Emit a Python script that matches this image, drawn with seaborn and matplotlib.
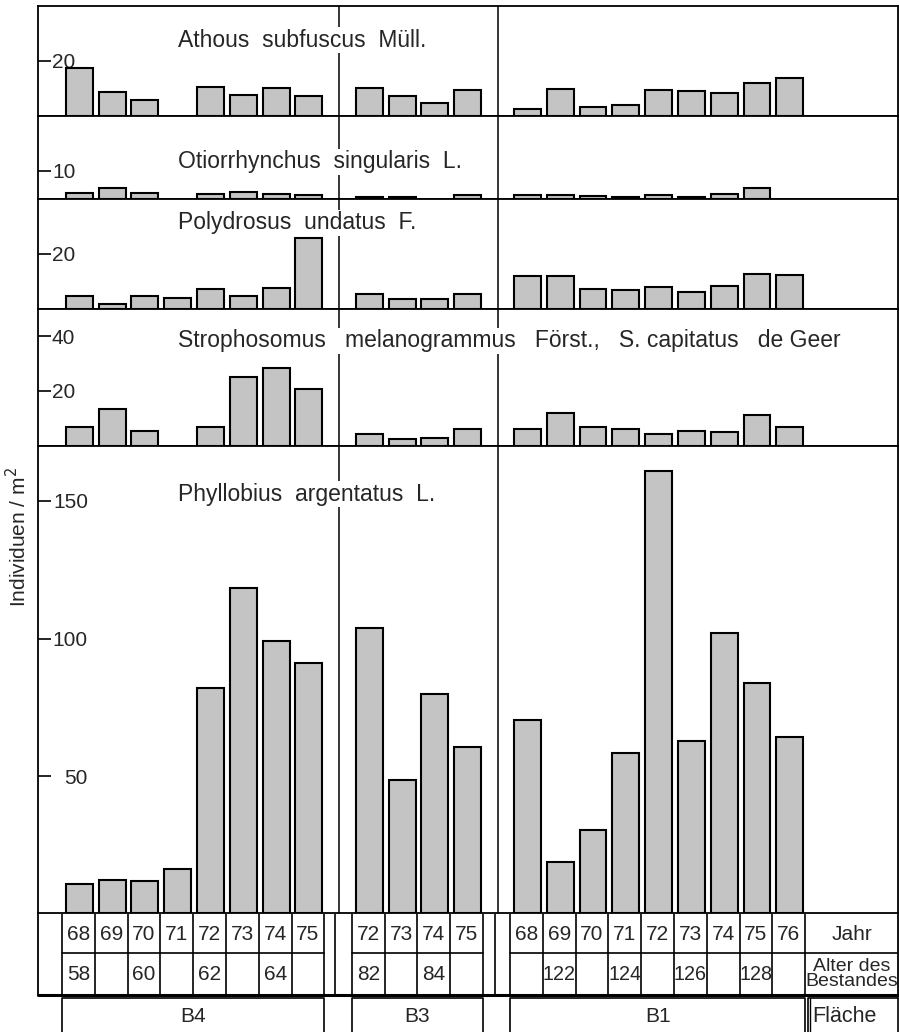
import numpy as np
import pandas as pd
import matplotlib
matplotlib.use("Agg")
import matplotlib.pyplot as plt
import seaborn as sns

sns.set_style("white")
plt.rcParams["font.family"] = ["Liberation Sans", "DejaVu Sans"]

# Years sampled on each area (Fläche)
years_b4 = [68, 69, 70, 71, 72, 73, 74, 75]
years_b3 = [72, 73, 74, 75]
years_b1 = [68, 69, 70, 71, 72, 73, 74, 75, 76]

# Age of the stand (Alter des Bestandes)
age_b4 = ["58", "", "60", "", "62", "", "64", ""]
age_b3 = ["82", "", "84", ""]
age_b1 = ["", "122", "", "124", "", "126", "", "128", ""]

areas = ["B4", "B3", "B1"]

species = [
    "Athous  subfuscus  Müll.",
    "Otiorrhynchus  singularis  L.",
    "Polydrosus  undatus  F.",
    "Strophosomus   melanogrammus   Först.,   S. capitatus   de Geer",
    "Phyllobius  argentatus  L.",
]

# Individuen / m2 (None = no bar)
athous_b4 = [17.3, 8.9, 5.7, None, 10.5, 7.6, 10.1, 7.3]
athous_b3 = [10.1, 7.3, 4.9, 9.3]
athous_b1 = [2.7, 10.0, 3.3, 4.1, 9.3, 9.0, 8.3, 11.9, 13.8]

otio_b4 = [2.0, 3.9, 1.9, None, 1.6, 2.5, 1.5, 1.1]
otio_b3 = [0.6, 0.6, None, 1.3]
otio_b1 = [1.2, 1.2, 1.0, 0.6, 1.1, 0.6, 1.5, 3.9, None]

poly_b4 = [4.5, 1.7, 4.7, 3.7, 7.1, 4.5, 7.4, 25.6]
poly_b3 = [5.1, 3.4, 3.6, 5.3]
poly_b1 = [11.9, 12.0, 7.0, 6.8, 7.9, 6.0, 8.1, 12.5, 12.1]

stroph_b4 = [6.8, 13.6, 5.3, None, 6.8, 25.0, 28.3, 20.8]
stroph_b3 = [4.3, 2.4, 2.8, 6.2]
stroph_b1 = [6.3, 12.1, 7.0, 6.2, 4.3, 5.3, 5.2, 11.4, 6.9]

phyl_b4 = [10.8, 12.0, 11.7, 16.3, 82.1, 118.3, 99.1, 91.2]
phyl_b3 = [103.7, 48.7, 80.0, 60.5]
phyl_b1 = [70.2, 18.7, 30.3, 58.2, 160.8, 62.7, 101.9, 84.0, 64.2]

values = [
    (athous_b4, athous_b3, athous_b1),
    (otio_b4, otio_b3, otio_b1),
    (poly_b4, poly_b3, poly_b1),
    (stroph_b4, stroph_b3, stroph_b1),
    (phyl_b4, phyl_b3, phyl_b1),
]
y_max = [40, 30, 40, 50, 170]
y_ticks = [[20], [10], [20], [20, 40], [50, 100, 150]]
title_y = [27.6, 13.4, 31.2, 38.3, 152.5]

# layout in "slot" units (one year column = 1 unit)
W, H = 899, 1032
px = 32.8
x_left, x_right = 38, 898
xmax = (x_right - x_left) / px
block_start = {"B4": 0.73, "B3": 9.57, "B1": 14.39}
year_lists = {"B4": years_b4, "B3": years_b3, "B1": years_b1}
age_lists = {"B4": age_b4, "B3": age_b3, "B1": age_b1}
dividers = [9.18, 14.02]

rows = []
for sp, vals in zip(species, values):
    for area, v in zip(areas, vals):
        for i, (yr, val) in enumerate(zip(year_lists[area], v)):
            if val is None:
                continue
            rows.append({"species": sp, "area": area, "year": yr,
                         "pos": block_start[area] + i + 0.53, "value": val})
df = pd.DataFrame(rows)

fig = plt.figure(figsize=(W / 100, H / 100), dpi=100)
top_px, bot_px = 6, 913.5
gs = fig.add_gridspec(5, 1, height_ratios=y_max, hspace=0,
                      left=x_left / W, right=x_right / W,
                      top=1 - top_px / H, bottom=1 - bot_px / H)

bar_color = "#c4c4c4"
for k, sp in enumerate(species):
    ax = fig.add_subplot(gs[k])
    d = df[df["species"] == sp]
    sns.barplot(data=d, x="pos", y="value", native_scale=True, color=bar_color,
                saturation=1, edgecolor="black", linewidth=1.5, width=0.82,
                errorbar=None, ax=ax, zorder=2)
    ax.set_xlim(0, xmax)
    ax.set_ylim(0, y_max[k])
    ax.set_xlabel("")
    ax.set_ylabel("")
    ax.set_xticks([])
    ax.set_yticks(y_ticks[k])
    ax.tick_params(axis="y", left=True, direction="in", length=9, width=1.2,
                   color="black", labelsize=15, pad=-10)
    for lab in ax.get_yticklabels():
        lab.set_horizontalalignment("left")
    if k == 4:
        ax.set_yticklabels(["50", "100", "150"])
        ax.tick_params(axis="y", pad=-36)
        for lab in ax.get_yticklabels():
            lab.set_horizontalalignment("right")
    for s in ax.spines.values():
        s.set_linewidth(1.3)
        s.set_color("black")
    for xd in dividers:
        ax.axvline(xd, color="black", lw=1.1, zorder=1)
    ax.text(4.27, title_y[k], sp, fontsize=16.5, ha="left", va="center",
            zorder=5, bbox=dict(facecolor="white", edgecolor="none", pad=1))

fig.text(18 / W, 1 - 537 / H, "Individuen / m$^2$", rotation=90,
         ha="center", va="center", fontsize=15)

# table below the bars
tax = fig.add_axes([x_left / W, 0, (x_right - x_left) / W, 1 - bot_px / H])
tax.set_xlim(0, xmax)
tax.set_ylim(H, bot_px)
tax.axis("off")

r_top, r_mid, r_bot = bot_px, 953, 995
lw = 1.2
tax.plot([0, 0], [r_top, r_bot], color="black", lw=1.3, clip_on=False)
tax.plot([xmax, xmax], [r_top, r_bot], color="black", lw=1.3, clip_on=False)
tax.plot([0, xmax], [r_bot, r_bot], color="black", lw=2.2, clip_on=False)
for xd in [9.05, 13.93]:
    tax.plot([xd, xd], [r_top, r_bot], color="black", lw=lw)
for area in areas:
    x0 = block_start[area]
    n = len(year_lists[area])
    for i in range(n + 1):
        tax.plot([x0 + i, x0 + i], [r_top, r_bot], color="black", lw=lw)
    tax.plot([x0, x0 + n], [r_mid, r_mid], color="black", lw=lw)
    for i, (yr, age) in enumerate(zip(year_lists[area], age_lists[area])):
        tax.text(x0 + i + 0.5, (r_top + r_mid) / 2 + 1, str(yr), ha="center",
                 va="center", fontsize=15)
        if age:
            tax.text(x0 + i + 0.5, (r_mid + r_bot) / 2 + 1, age, ha="center",
                     va="center", fontsize=15 if len(age) < 3 else 14.2)
    # Fläche box
    tax.plot([x0, x0, x0 + n, x0 + n], [H + 5, 998, 998, H + 5],
             color="black", lw=lw, clip_on=False)
    tax.text(x0 + n / 2, 1016, area, ha="center", va="center", fontsize=15)

x_j = block_start["B1"] + len(years_b1)
tax.plot([x_j, xmax], [r_mid, r_mid], color="black", lw=lw)
tax.text((x_j + xmax) / 2, (r_top + r_mid) / 2 + 1, "Jahr", ha="center",
         va="center", fontsize=15)
tax.text((x_j + xmax) / 2, (r_mid + r_bot) / 2, "Alter des\nBestandes",
         ha="center", va="center", fontsize=14, linespacing=0.88)
xf = x_j + 0.08
tax.plot([xf, xf, xmax], [H + 5, 998, 998], color="black", lw=lw, clip_on=False)
tax.plot([xf + 0.07, xf + 0.07], [H + 5, 998], color="black", lw=1.0, clip_on=False)
tax.plot([xmax, xmax], [998, H + 5], color="black", lw=lw, clip_on=False)
tax.text(xf + 0.15, 1016, "Fläche", ha="left", va="center", fontsize=15.5)

fig.savefig("out.png", dpi=100)
